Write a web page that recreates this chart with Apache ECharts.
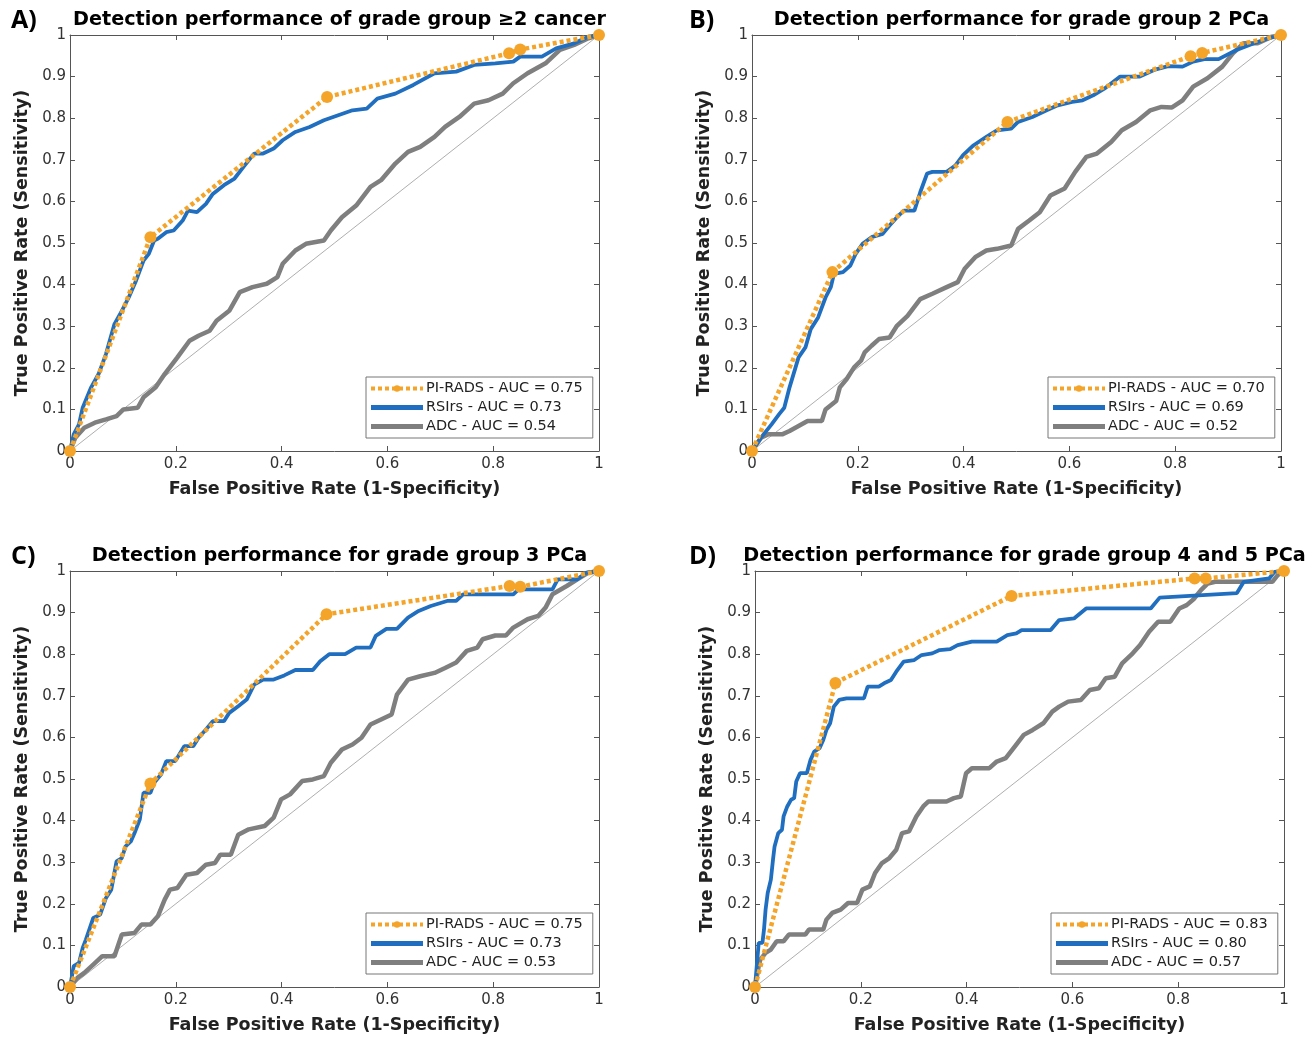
<!DOCTYPE html>
<html>
<head>
<meta charset="utf-8">
<script src="https://cdn.jsdelivr.net/npm/echarts@6/dist/echarts.min.js"></script>
<style>
  html, body { margin: 0; padding: 0; background: #fff; }
  #echarts { width: 1316px; height: 1038px; }
</style>
</head>
<body>
<div id="echarts"></div>
<script>
// ROC curves, 4 panels. points are [FPR, TPR]
var aPirads = [[0, 0], [0.152, 0.514], [0.486, 0.851], [0.83, 0.956], [0.851, 0.965], [1, 1]];
var aRsi = [[0, 0], [0.007, 0.04], [0.017, 0.064], [0.024, 0.104], [0.04, 0.153], [0.054, 0.185], [0.068, 0.233], [0.084, 0.305], [0.098, 0.337], [0.111, 0.369], [0.125, 0.41], [0.139, 0.458], [0.149, 0.474], [0.159, 0.506], [0.166, 0.51], [0.182, 0.526], [0.196, 0.53], [0.213, 0.554], [0.223, 0.578], [0.24, 0.574], [0.257, 0.594], [0.27, 0.618], [0.291, 0.639], [0.311, 0.655], [0.328, 0.683], [0.348, 0.715], [0.365, 0.715], [0.385, 0.727], [0.402, 0.747], [0.426, 0.767], [0.453, 0.779], [0.48, 0.795], [0.507, 0.807], [0.534, 0.819], [0.561, 0.823], [0.581, 0.847], [0.615, 0.859], [0.649, 0.88], [0.689, 0.908], [0.73, 0.912], [0.764, 0.928], [0.804, 0.932], [0.838, 0.936], [0.851, 0.948], [0.892, 0.948], [0.919, 0.968], [0.953, 0.98], [0.98, 0.996], [1, 1]];
var aAdc = [[0, 0], [0.01, 0.032], [0.027, 0.056], [0.047, 0.068], [0.068, 0.076], [0.088, 0.084], [0.101, 0.1], [0.128, 0.104], [0.139, 0.129], [0.162, 0.153], [0.179, 0.185], [0.203, 0.225], [0.226, 0.265], [0.243, 0.277], [0.264, 0.289], [0.277, 0.313], [0.301, 0.337], [0.321, 0.382], [0.345, 0.394], [0.372, 0.402], [0.392, 0.418], [0.402, 0.45], [0.426, 0.482], [0.446, 0.498], [0.48, 0.506], [0.493, 0.53], [0.514, 0.562], [0.541, 0.59], [0.568, 0.635], [0.588, 0.651], [0.615, 0.691], [0.639, 0.719], [0.662, 0.731], [0.689, 0.755], [0.709, 0.779], [0.736, 0.803], [0.764, 0.835], [0.791, 0.843], [0.818, 0.859], [0.838, 0.884], [0.865, 0.908], [0.899, 0.932], [0.926, 0.964], [0.953, 0.976], [0.98, 0.992], [1, 1]];

var bPirads = [[0, 0], [0.152, 0.43], [0.483, 0.791], [0.829, 0.949], [0.851, 0.957], [1, 1]];
var bRsi = [[0, 0], [0.017, 0.032], [0.037, 0.064], [0.051, 0.088], [0.061, 0.104], [0.071, 0.153], [0.088, 0.225], [0.101, 0.249], [0.111, 0.293], [0.125, 0.321], [0.139, 0.369], [0.149, 0.394], [0.155, 0.426], [0.172, 0.43], [0.186, 0.446], [0.196, 0.474], [0.209, 0.498], [0.226, 0.514], [0.247, 0.522], [0.26, 0.542], [0.274, 0.562], [0.287, 0.578], [0.307, 0.578], [0.318, 0.622], [0.331, 0.667], [0.341, 0.671], [0.368, 0.671], [0.385, 0.687], [0.399, 0.711], [0.419, 0.735], [0.443, 0.755], [0.463, 0.771], [0.49, 0.775], [0.503, 0.791], [0.53, 0.803], [0.557, 0.819], [0.578, 0.831], [0.605, 0.839], [0.625, 0.843], [0.645, 0.855], [0.666, 0.871], [0.696, 0.9], [0.733, 0.9], [0.76, 0.916], [0.787, 0.925], [0.814, 0.924], [0.834, 0.936], [0.855, 0.942], [0.882, 0.942], [0.916, 0.964], [0.949, 0.98], [0.976, 0.992], [1, 1]];
var bAdc = [[0, 0], [0.017, 0.032], [0.03, 0.04], [0.057, 0.04], [0.071, 0.048], [0.088, 0.06], [0.105, 0.072], [0.132, 0.072], [0.139, 0.1], [0.159, 0.12], [0.166, 0.153], [0.179, 0.173], [0.193, 0.201], [0.206, 0.217], [0.213, 0.237], [0.226, 0.253], [0.24, 0.269], [0.26, 0.273], [0.274, 0.301], [0.294, 0.325], [0.318, 0.365], [0.341, 0.378], [0.368, 0.394], [0.389, 0.406], [0.402, 0.438], [0.422, 0.466], [0.443, 0.482], [0.463, 0.486], [0.49, 0.494], [0.503, 0.534], [0.524, 0.554], [0.544, 0.574], [0.564, 0.614], [0.591, 0.631], [0.611, 0.671], [0.632, 0.707], [0.652, 0.715], [0.679, 0.743], [0.699, 0.771], [0.726, 0.791], [0.753, 0.819], [0.774, 0.827], [0.794, 0.826], [0.814, 0.843], [0.834, 0.876], [0.861, 0.896], [0.889, 0.924], [0.909, 0.956], [0.929, 0.98], [0.956, 0.98], [0.983, 0.996], [1, 1]];

var cPirads = [[0, 0], [0.152, 0.489], [0.485, 0.896], [0.831, 0.964], [0.851, 0.962], [1, 1]];
var cRsi = [[0, 0], [0.007, 0.05], [0.017, 0.058], [0.024, 0.094], [0.03, 0.114], [0.044, 0.166], [0.057, 0.174], [0.068, 0.214], [0.078, 0.234], [0.088, 0.302], [0.098, 0.31], [0.105, 0.338], [0.115, 0.35], [0.122, 0.37], [0.132, 0.403], [0.139, 0.467], [0.152, 0.467], [0.159, 0.491], [0.172, 0.511], [0.182, 0.543], [0.199, 0.543], [0.216, 0.579], [0.233, 0.579], [0.243, 0.599], [0.257, 0.619], [0.27, 0.639], [0.291, 0.639], [0.301, 0.659], [0.318, 0.675], [0.334, 0.691], [0.348, 0.727], [0.365, 0.739], [0.385, 0.739], [0.405, 0.749], [0.426, 0.762], [0.459, 0.762], [0.473, 0.783], [0.49, 0.8], [0.52, 0.8], [0.541, 0.816], [0.568, 0.816], [0.578, 0.844], [0.598, 0.861], [0.618, 0.861], [0.639, 0.888], [0.659, 0.904], [0.682, 0.916], [0.713, 0.928], [0.73, 0.928], [0.743, 0.944], [0.838, 0.944], [0.848, 0.956], [0.912, 0.956], [0.922, 0.98], [0.959, 0.98], [0.976, 0.996], [1, 1]];
var cAdc = [[0, 0], [0.014, 0.022], [0.027, 0.034], [0.044, 0.054], [0.061, 0.074], [0.084, 0.074], [0.098, 0.126], [0.122, 0.13], [0.135, 0.15], [0.152, 0.15], [0.166, 0.17], [0.179, 0.21], [0.189, 0.234], [0.203, 0.238], [0.22, 0.27], [0.24, 0.274], [0.257, 0.294], [0.274, 0.298], [0.284, 0.318], [0.304, 0.318], [0.318, 0.366], [0.338, 0.379], [0.368, 0.387], [0.385, 0.407], [0.399, 0.451], [0.416, 0.463], [0.439, 0.495], [0.459, 0.499], [0.48, 0.507], [0.493, 0.539], [0.514, 0.571], [0.534, 0.583], [0.551, 0.599], [0.568, 0.631], [0.588, 0.643], [0.608, 0.655], [0.618, 0.703], [0.639, 0.739], [0.662, 0.747], [0.689, 0.755], [0.709, 0.767], [0.73, 0.78], [0.75, 0.808], [0.77, 0.816], [0.78, 0.836], [0.804, 0.845], [0.824, 0.845], [0.838, 0.864], [0.865, 0.884], [0.885, 0.892], [0.899, 0.912], [0.912, 0.944], [0.939, 0.964], [0.959, 0.98], [0.98, 0.996], [1, 1]];

var dPirads = [[0, 0], [0.152, 0.731], [0.485, 0.94], [0.831, 0.982], [0.852, 0.982], [1, 1]];
var dRsi = [[0, 0], [0.007, 0.106], [0.014, 0.106], [0.017, 0.138], [0.02, 0.186], [0.024, 0.226], [0.03, 0.258], [0.034, 0.306], [0.037, 0.338], [0.044, 0.37], [0.051, 0.378], [0.054, 0.41], [0.061, 0.434], [0.068, 0.45], [0.074, 0.454], [0.078, 0.494], [0.085, 0.514], [0.098, 0.514], [0.105, 0.546], [0.112, 0.566], [0.122, 0.574], [0.129, 0.594], [0.135, 0.618], [0.142, 0.634], [0.149, 0.674], [0.159, 0.69], [0.173, 0.694], [0.206, 0.694], [0.213, 0.722], [0.234, 0.722], [0.244, 0.73], [0.257, 0.738], [0.267, 0.758], [0.281, 0.782], [0.301, 0.786], [0.315, 0.798], [0.335, 0.802], [0.349, 0.81], [0.369, 0.812], [0.383, 0.822], [0.41, 0.83], [0.457, 0.83], [0.477, 0.846], [0.494, 0.85], [0.504, 0.858], [0.559, 0.858], [0.575, 0.882], [0.603, 0.886], [0.626, 0.91], [0.748, 0.91], [0.765, 0.936], [0.911, 0.947], [0.924, 0.974], [0.972, 0.982], [0.982, 0.998], [1, 1]];
var dAdc = [[0, 0], [0.007, 0.05], [0.01, 0.066], [0.02, 0.082], [0.03, 0.09], [0.041, 0.11], [0.054, 0.11], [0.064, 0.126], [0.095, 0.126], [0.102, 0.138], [0.129, 0.138], [0.135, 0.162], [0.146, 0.178], [0.162, 0.186], [0.176, 0.202], [0.193, 0.202], [0.203, 0.234], [0.217, 0.242], [0.227, 0.274], [0.24, 0.298], [0.254, 0.31], [0.267, 0.33], [0.278, 0.37], [0.291, 0.374], [0.305, 0.41], [0.318, 0.434], [0.328, 0.446], [0.362, 0.446], [0.376, 0.454], [0.389, 0.458], [0.399, 0.514], [0.41, 0.526], [0.443, 0.526], [0.457, 0.542], [0.474, 0.55], [0.491, 0.578], [0.508, 0.606], [0.525, 0.618], [0.545, 0.634], [0.562, 0.662], [0.575, 0.674], [0.592, 0.686], [0.616, 0.69], [0.633, 0.714], [0.65, 0.718], [0.663, 0.742], [0.68, 0.746], [0.694, 0.778], [0.714, 0.802], [0.728, 0.822], [0.745, 0.854], [0.762, 0.878], [0.785, 0.878], [0.802, 0.91], [0.816, 0.918], [0.829, 0.932], [0.843, 0.954], [0.856, 0.97], [0.87, 0.974], [0.978, 0.974], [0.988, 0.99], [1, 1]];

var diagonal = [[0, 0], [1, 1]];

var panelLetters = ['A)', 'B)', 'C)', 'D)'];
var panelTitles = [
    'Detection performance of grade group \u22652 cancer',
    'Detection performance for grade group 2 PCa',
    'Detection performance for grade group 3 PCa',
    'Detection performance for grade group 4 and 5 PCa'
];
var piradsAuc = ['0.75', '0.70', '0.75', '0.83'];
var rsiAuc = ['0.73', '0.69', '0.73', '0.80'];
var adcAuc = ['0.54', '0.52', '0.53', '0.57'];
var piradsData = [aPirads, bPirads, cPirads, dPirads];
var rsiData = [aRsi, bRsi, cRsi, dRsi];
var adcData = [aAdc, bAdc, cAdc, dAdc];

var orange = '#F5A42A';
var blue = '#1F6EBF';
var grey = '#7F7F7F';

// layout of the four boxes
var boxes = [
    { left: 70, top: 35 },
    { left: 752, top: 35 },
    { left: 70, top: 571 },
    { left: 755, top: 571 }
];
var boxW = 529, boxH = 416;

var chart = echarts.init(document.getElementById('echarts'));

var grid = [], xAxis = [], yAxis = [], series = [], legend = [], title = [];
var lineCol = '#555';
var nameFont = { color: '#222', fontSize: 17.5, fontWeight: 'bold', fontFamily: 'DejaVu Sans' };
// thick bar used as legend sample for solid lines
var barIcon = 'path://M0,0H52V5H0Z';

for (let i = 0; i < 4; i++) {
    var b = boxes[i];
    grid.push({ left: b.left, top: b.top, width: boxW, height: boxH, containLabel: false });

    var baseAxis = {
        gridIndex: i, type: 'value', min: 0, max: 1,
        axisLine: { show: true, onZero: false, lineStyle: { color: lineCol, width: 1 } },
        axisTick: { show: true, inside: true, length: 5, lineStyle: { color: lineCol } },
        splitLine: { show: false }
    };
    // bottom / left with labels
    xAxis.push(Object.assign({}, baseAxis, {
        position: 'bottom', interval: 0.2,
        axisLabel: { color: '#333', fontSize: 15, fontFamily: 'DejaVu Sans', margin: 6 },
        name: 'False Positive Rate (1-Specificity)', nameLocation: 'middle', nameGap: 29,
        nameTextStyle: nameFont
    }));
    yAxis.push(Object.assign({}, baseAxis, {
        position: 'left', interval: 0.1,
        axisLabel: { color: '#333', fontSize: 15, fontFamily: 'DejaVu Sans', margin: 4 },
        name: 'True Positive Rate (Sensitivity)', nameLocation: 'middle', nameGap: 39,
        nameTextStyle: nameFont
    }));
    // top / right for the box
    xAxis.push(Object.assign({}, baseAxis, { position: 'top', interval: 0.2, axisLabel: { show: false } }));
    yAxis.push(Object.assign({}, baseAxis, { position: 'right', interval: 0.1, axisLabel: { show: false } }));

    var ax = i * 2;
    var pName = 'PI-RADS - AUC = ' + piradsAuc[i];
    var rName = 'RSIrs - AUC = ' + rsiAuc[i];
    var cName = 'ADC - AUC = ' + adcAuc[i];

    series.push({
        type: 'line', xAxisIndex: ax, yAxisIndex: ax, data: diagonal,
        symbol: 'none', silent: true, z: 1,
        lineStyle: { color: '#999', width: 0.8 }
    });
    series.push({
        name: cName, type: 'line', xAxisIndex: ax, yAxisIndex: ax, data: adcData[i],
        symbol: 'none', z: 2, color: grey,
        lineStyle: { color: grey, width: 4.5 }
    });
    series.push({
        name: rName, type: 'line', xAxisIndex: ax, yAxisIndex: ax, data: rsiData[i],
        symbol: 'none', z: 3, color: blue,
        lineStyle: { color: blue, width: 3.8 }
    });
    series.push({
        name: pName, type: 'line', xAxisIndex: ax, yAxisIndex: ax, data: piradsData[i],
        symbol: 'circle', symbolSize: 12, showSymbol: true, z: 4, color: orange,
        itemStyle: { color: orange },
        lineStyle: { color: orange, width: 4.5, type: [4, 3] }
    });

    legend.push({
        orient: 'vertical',
        left: b.left + 296, top: b.top + 342,
        data: [
            { name: pName },
            { name: rName, icon: barIcon, itemStyle: { color: blue } },
            { name: cName, icon: barIcon, itemStyle: { color: grey } }
        ],
        itemWidth: 52, itemHeight: 8, itemGap: 4,
        lineStyle: { width: 4 },
        borderColor: '#777', borderWidth: 1, padding: [4, 10, 4, 3],
        backgroundColor: '#fff',
        selectedMode: false,
        textStyle: { color: '#222', fontSize: 14.5, fontFamily: 'DejaVu Sans', padding: [0, 0, 0, -2] }
    });

    title.push({
        text: panelTitles[i], left: b.left + boxW / 2, top: b.top - 29, textAlign: 'center',
        textStyle: { color: '#000', fontSize: 19.2, fontWeight: 'bold', fontFamily: 'DejaVu Sans' }
    });
    title.push({
        text: panelLetters[i], left: i % 2 === 0 ? 6 : 684, top: b.top - 32,
        textStyle: { color: '#000', fontSize: 25, fontWeight: 'bold', fontFamily: 'Open Sans' }
    });
}

var option = {
    backgroundColor: '#fff',
    animation: false,
    title: title,
    legend: legend,
    grid: grid,
    xAxis: xAxis,
    yAxis: yAxis,
    series: series
};
chart.setOption(option);
</script>
</body>
</html>
